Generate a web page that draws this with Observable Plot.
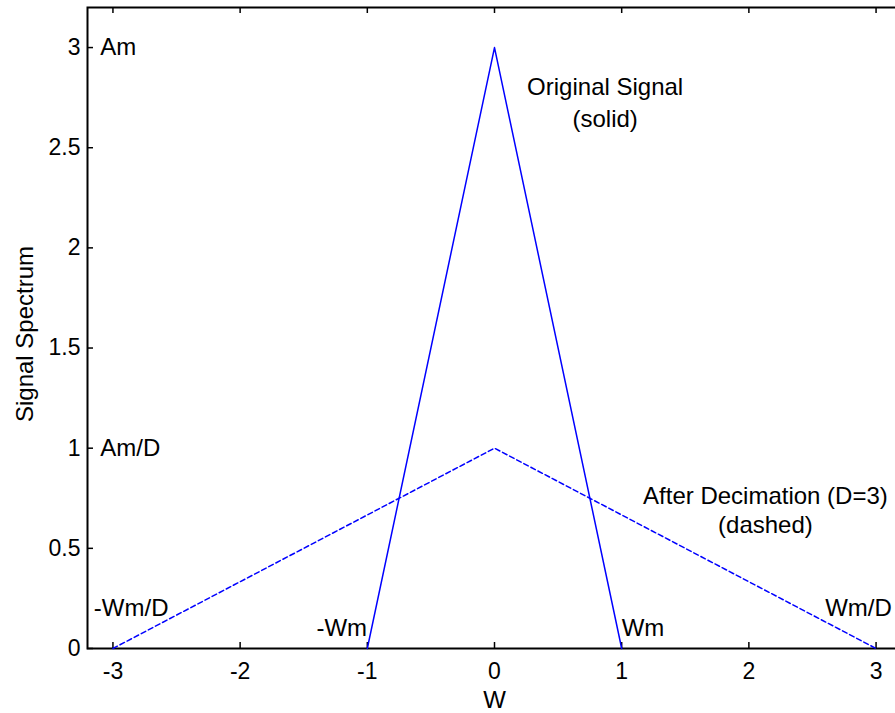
<!DOCTYPE html>
<html>
<head>
<meta charset="utf-8">
<script src="https://cdn.jsdelivr.net/npm/d3@7"></script>
<script src="https://cdn.jsdelivr.net/npm/@observablehq/plot@0.6"></script>
<style>
  html, body { margin: 0; padding: 0; background: #fff; overflow: hidden; }
  #chart svg { display: block; overflow: visible; max-width: none !important; }
</style>
</head>
<body>
<div id="chart"></div>
<script>
// Original signal spectrum (solid)
const origW = [-1, 0, 1];
const origA = [0, 3, 0];
// After decimation D=3 (dashed)
const decW = [-3, 0, 3];
const decA = [0, 1, 0];
// ticks
const xTicks = [-3, -2, -1, 0, 1, 2, 3];
const yTicks = [0, 0.5, 1, 1.5, 2, 2.5, 3];
// annotations
const labelText = ["Am", "Am/D", "-Wm/D", "Wm/D", "-Wm", "Wm"];
const labelX = [-3.1, -3.1, -3.15, 2.6, -1.4, 1.0];
const labelY = [3, 1, 0.2, 0.2, 0.1, 0.1];
const centerText = ["Original Signal", "(solid)", "After Decimation (D=3)", "(dashed)"];
const centerX = [0.87, 0.87, 2.13, 2.13];
const centerY = [2.8, 2.64, 0.76, 0.615];

const orig = origW.map((w, i) => ({w, a: origA[i]}));
const dec = decW.map((w, i) => ({w, a: decA[i]}));
const labels = labelText.map((t, i) => ({t, x: labelX[i], y: labelY[i]}));
const centers = centerText.map((t, i) => ({t, x: centerX[i], y: centerY[i]}));

const W = 901, H = 713, mT = 7, mB = 65, mL = 87, mR = 0;
const frameH = H - mT - mB, frameW = W - mL - mR;
const tick = 6;
const font = "Liberation Sans, Arial, Helvetica, sans-serif";
const fmt = d => String(d);

const chart = Plot.plot({
  width: W, height: H,
  marginTop: mT, marginBottom: mB, marginLeft: mL, marginRight: mR,
  style: {fontFamily: font, background: "white", color: "black", maxWidth: "none"},
  x: {domain: [-3.2, 3.2]},
  y: {domain: [0, 3.2]},
  marks: [
    Plot.axisX(xTicks, {anchor: "bottom", tickSize: 0, tickPadding: 14, fontSize: 23, label: null, tickFormat: fmt}),
    Plot.axisY(yTicks, {anchor: "left", tickSize: 0, tickPadding: 7, fontSize: 23, label: null, tickFormat: fmt}),
    // inward ticks
    Plot.ruleX(xTicks, {x: d => d, insetTop: frameH - tick, stroke: "black", strokeWidth: 1.5}),
    Plot.ruleX(xTicks, {x: d => d, insetBottom: frameH - tick, stroke: "black", strokeWidth: 1.5}),
    Plot.ruleY(yTicks, {y: d => d, insetRight: frameW - tick, stroke: "black", strokeWidth: 1.5}),
    Plot.ruleY(yTicks, {y: d => d, insetLeft: frameW - tick, stroke: "black", strokeWidth: 1.5}),
    Plot.frame({stroke: "black", strokeWidth: 2}),
    Plot.line(dec, {x: "w", y: "a", stroke: "#0000ff", strokeWidth: 1.5, strokeDasharray: "5,3"}),
    Plot.line(orig, {x: "w", y: "a", stroke: "#0000ff", strokeWidth: 1.5}),
    Plot.text(labels, {x: "x", y: "y", text: "t", textAnchor: "start", lineAnchor: "middle", fontSize: 24, fill: "black"}),
    Plot.text(centers, {x: "x", y: "y", text: "t", textAnchor: "middle", lineAnchor: "middle", fontSize: 24, fill: "black"}),
    Plot.text(["Signal Spectrum"], {frameAnchor: "left", rotate: -90, dx: -62, dy: 6, textAnchor: "middle", lineAnchor: "middle", fontSize: 24, fill: "black"}),
    Plot.text(["W"], {frameAnchor: "bottom", dy: 52, textAnchor: "middle", lineAnchor: "middle", fontSize: 24, fill: "black"})
  ]
});
document.getElementById("chart").appendChild(chart);
</script>
</body>
</html>
